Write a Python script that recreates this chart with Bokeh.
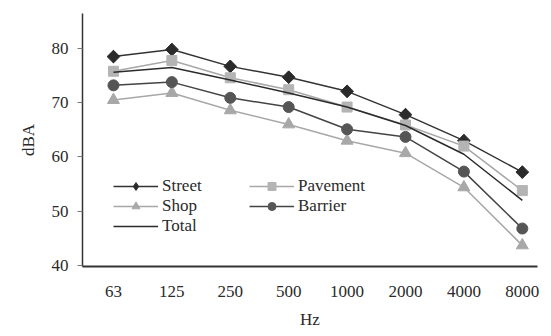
import math
from bokeh.plotting import figure
from bokeh.models import Range1d, FixedTicker, Legend, LegendItem
from bokeh.embed import file_html
from bokeh.resources import INLINE

freqs = ["63", "125", "250", "500", "1000", "2000", "4000", "8000"]
street = [78.5, 79.8, 76.7, 74.7, 72.1, 67.8, 63.0, 57.2]
pavement = [75.8, 77.8, 74.6, 72.4, 69.2, 65.9, 62.0, 53.8]
shop = [70.5, 71.8, 68.6, 66.0, 63.0, 60.7, 54.4, 43.7]
barrier = [73.2, 73.8, 70.9, 69.2, 65.1, 63.7, 57.3, 46.8]
total = [75.6, 76.5, 74.2, 71.8, 69.2, 65.8, 60.5, 52.0]
y_ticks = [40, 50, 60, 70, 80]

x = list(range(len(freqs)))
FONT = "Liberation Serif, serif"
TXT = "#2a2a2a"

p = figure(width=551, height=336, output_backend="svg", toolbar_location=None,
           x_range=Range1d(-0.53, 7.26), y_range=Range1d(39.8, 86.45),
           min_border_left=82, min_border_right=14, min_border_top=13, min_border_bottom=70)
p.outline_line_color = None
p.grid.visible = False
p.background_fill_color = "white"
p.border_fill_color = "white"

xa = p.xaxis[0]
xa.ticker = FixedTicker(ticks=x)
xa.major_label_overrides = {i: f for i, f in enumerate(freqs)}
xa.major_tick_out = 0
xa.major_tick_in = 0
xa.minor_tick_out = 0
xa.minor_tick_in = 0
xa.major_label_standoff = 19
xa.axis_label = "Hz"
xa.axis_label_standoff = 10
xa.axis_line_width = 2
xa.axis_line_color = "#333333"

ya = p.yaxis[0]
ya.ticker = FixedTicker(ticks=y_ticks)
ya.major_tick_out = 5
ya.major_tick_in = 0
ya.minor_tick_out = 0
ya.minor_tick_in = 0
ya.major_label_standoff = 9
ya.axis_label = "dBA"
ya.axis_label_standoff = 11
ya.axis_line_width = 1.5
ya.axis_line_color = "#333333"
ya.major_tick_line_color = "#777777"

for ax in (xa, ya):
    ax.major_label_text_font = FONT
    ax.major_label_text_font_size = "17px"
    ax.major_label_text_color = TXT
    ax.axis_label_text_font = FONT
    ax.axis_label_text_font_size = "17px"
    ax.axis_label_text_font_style = "normal"
    ax.axis_label_text_color = TXT

rend = {}

# Street: line + diamond (for legend) + rotated square on top (plot look)
l = p.line(x, street, line_color="#333333", line_width=1.5)
d = p.scatter(x, street, marker="diamond", size=12, fill_color="#2b2b2b", line_color="#2b2b2b")
p.scatter(x, street, marker="square", size=9, angle=math.pi / 4,
          fill_color="#2b2b2b", line_color="#2b2b2b")
rend["Street"] = [l, d]

series = [
    ("Pavement", pavement, "#a8a8a8", "square", "#b4b4b4", 10),
    ("Shop", shop, "#a8a8a8", "triangle", "#a8a8a8", 12),
    ("Barrier", barrier, "#444444", "circle", "#555555", 11),
]
for name, vals, lc, mk, mc, sz in series:
    l = p.line(x, vals, line_color=lc, line_width=1.5)
    s = p.scatter(x, vals, marker=mk, size=sz, fill_color=mc, line_color=mc)
    rend[name] = [l, s]
lt = p.line(x, total, line_color="#2b2b2b", line_width=1.5)
rend["Total"] = [lt]

def make_legend(names, loc):
    leg = Legend(items=[LegendItem(label=n, renderers=rend[n]) for n in names],
                 location=loc, padding=0, margin=0, spacing=0,
                 glyph_width=45, glyph_height=20, label_height=20,
                 label_standoff=4, border_line_color=None,
                 background_fill_alpha=0,
                 label_text_font=FONT, label_text_font_size="17px",
                 label_text_color=TXT)
    return leg

p.add_layout(make_legend(["Street", "Shop", "Total"], (31, 30)))
p.add_layout(make_legend(["Pavement", "Barrier"], (167, 50)))

open("out.html", "w").write(file_html(p, INLINE))
